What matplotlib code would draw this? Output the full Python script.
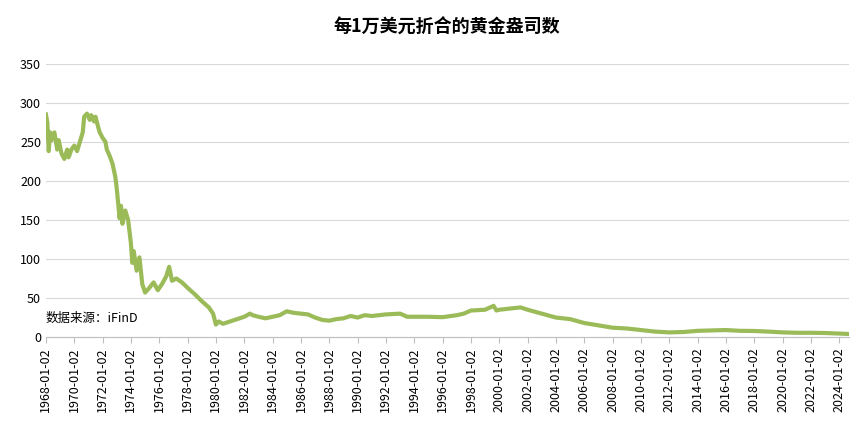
import matplotlib

matplotlib.use("Agg")
import matplotlib.pyplot as plt
import matplotlib.dates as mdates
import numpy as np
import pandas as pd

plt.rcParams["font.family"] = ["Noto Sans CJK SC", "DejaVu Sans"]

GREEN = "#9BBB59"
GRID = "#D9D9D9"

# fractional year -> ounces of gold per 10,000 USD
years = [
    1968.0, 1968.1, 1968.2, 1968.3, 1968.4, 1968.6, 1968.8, 1968.9, 1969.1, 1969.3, 1969.5, 1969.6,
    1969.8, 1970.0, 1970.2, 1970.4, 1970.6, 1970.7, 1970.9, 1971.1, 1971.2, 1971.4, 1971.5, 1971.7,
    1971.8, 1972.0, 1972.2, 1972.3, 1972.5, 1972.7, 1972.9, 1973.0, 1973.2, 1973.3, 1973.4, 1973.6,
    1973.8, 1974.0, 1974.1, 1974.2, 1974.4, 1974.6, 1974.8, 1975.0, 1975.3, 1975.6, 1975.9, 1976.2,
    1976.5, 1976.7, 1976.9, 1977.2, 1977.6, 1978.0, 1978.5, 1979.0, 1979.5, 1979.8, 1980.0, 1980.2,
    1980.5, 1981.0, 1981.5, 1982.0, 1982.4, 1982.6, 1983.0, 1983.5, 1984.0, 1984.5, 1985.0, 1985.5,
    1986.0, 1986.5, 1987.0, 1987.5, 1988.0, 1988.5, 1989.0, 1989.5, 1990.0, 1990.5, 1991.0, 1991.5,
    1992.0, 1993.0, 1993.5, 1994.0, 1995.0, 1996.0, 1997.0, 1997.5, 1998.0, 1999.0, 1999.6, 1999.8,
    2000.0, 2001.0, 2001.5, 2002.0, 2003.0, 2004.0, 2005.0, 2006.0, 2007.0, 2008.0, 2009.0, 2010.0,
    2011.0, 2012.0, 2013.0, 2014.0, 2015.0, 2016.0, 2017.0, 2018.0, 2019.0, 2020.0, 2021.0, 2022.0,
    2023.0, 2024.0, 2024.6,
]
ounces = [
    285, 275, 238, 262, 252, 262, 240, 252, 235, 228, 240, 230,
    240, 245, 238, 250, 262, 282, 286, 278, 284, 276, 282, 268,
    262, 255, 250, 240, 232, 222, 205, 190, 152, 168, 145, 162,
    150, 120, 95, 110, 85, 102, 68, 57, 63, 70, 60, 68,
    78, 90, 72, 75, 70, 63, 55, 46, 38, 30, 16, 20,
    17, 20, 23, 26, 30, 28, 26, 24, 26, 28, 33, 31,
    30, 29, 25, 22, 21, 23, 24, 27, 25, 28, 27, 28,
    29, 30, 26, 26, 26, 25.5, 28, 30, 34, 35, 40, 34,
    35, 37, 38, 35, 30, 25, 23, 18, 15, 12, 11, 9,
    7, 6, 6.5, 8, 8.5, 9, 8, 7.8, 7, 6, 5.5, 5.5,
    5.2, 4.5, 4,
]

tick_years = list(range(1968, 2025, 2))


def to_date(y: float) -> pd.Timestamp:
    return pd.Timestamp(f"{int(y)}-01-02") + pd.Timedelta(days=(y - int(y)) * 365.25)


dates = [to_date(y) for y in years]

fig = plt.figure(figsize=(8.66, 4.24), dpi=100)
ax = fig.add_axes([0.053, 0.205, 0.927, 0.645])
ax.plot(dates, ounces, color=GREEN, linewidth=3)

ax.set_ylim(0, 350)
ax.set_yticks(np.arange(0, 351, 50))
ax.set_xlim(pd.Timestamp("1968-01-02"), pd.Timestamp("2024-09-01"))
ax.set_xticks([pd.Timestamp(f"{y}-01-02") for y in tick_years])
ax.xaxis.set_major_formatter(mdates.DateFormatter("%Y-%m-%d"))
ax.tick_params(axis="x", rotation=90, labelsize=9, color="#BFBFBF", length=4)
ax.tick_params(axis="y", labelsize=9, length=0)
ax.grid(axis="y", color=GRID, linewidth=0.8)
ax.set_axisbelow(True)
for side in ("top", "right", "left"):
    ax.spines[side].set_visible(False)
ax.spines["bottom"].set_color("#BFBFBF")

ax.set_title("每1万美元折合的黄金盎司数", fontsize=13, fontweight="bold", pad=22)
ax.text(0.0, 0.07, "数据来源：iFinD", transform=ax.transAxes, fontsize=9, ha="left", va="center")

fig.savefig("out.png", dpi=100, facecolor="white")
